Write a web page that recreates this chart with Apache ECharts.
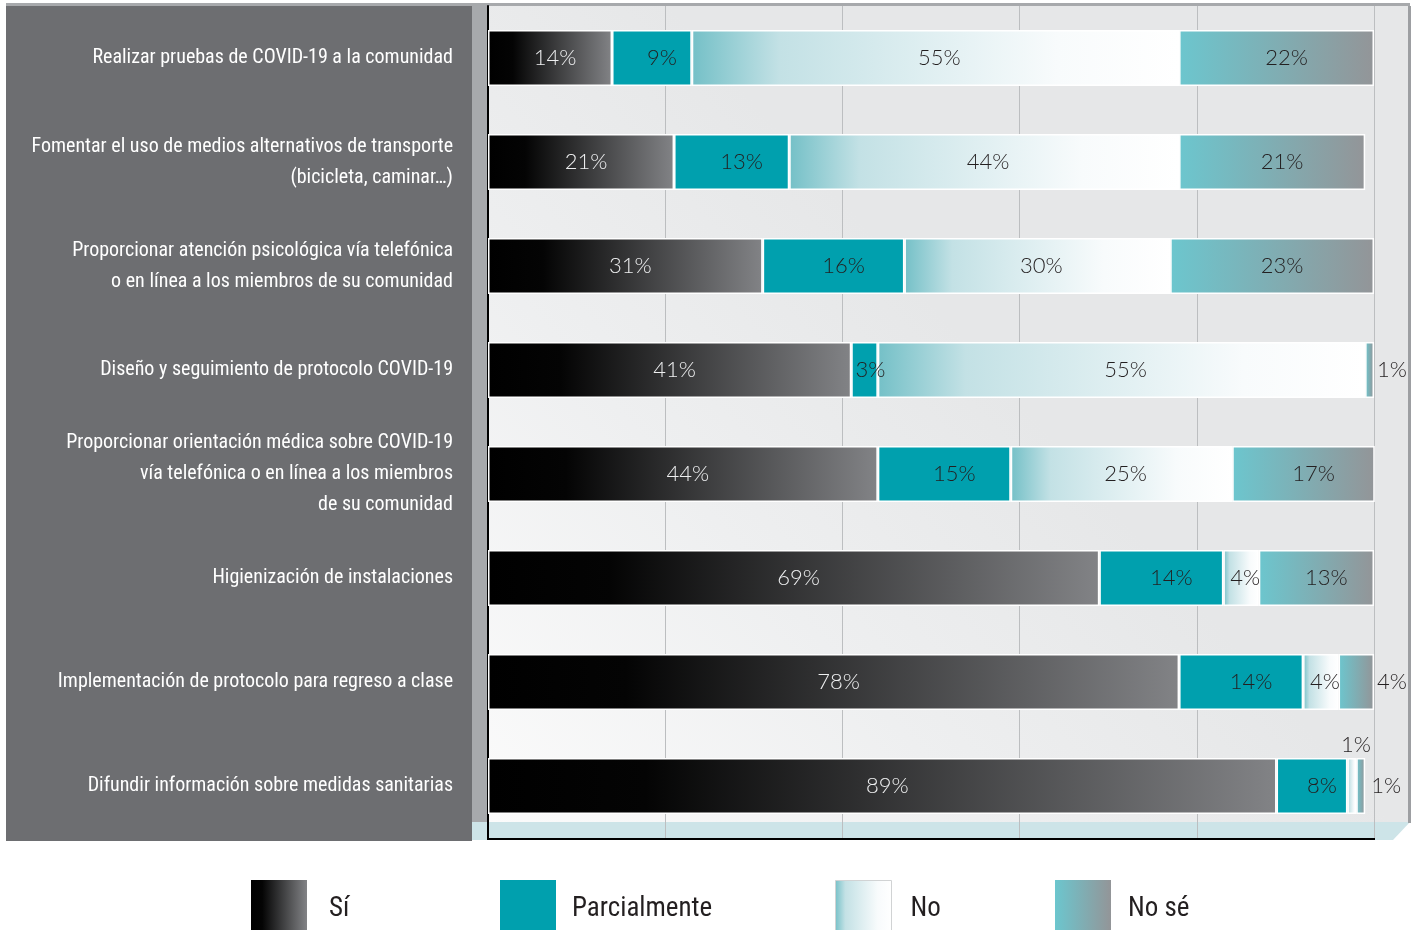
<!DOCTYPE html>
<html>
<head>
<meta charset="utf-8">
<script src="https://cdn.jsdelivr.net/npm/echarts@6/dist/echarts.min.js"></script>
<style>
html,body{margin:0;padding:0;background:#ffffff;}
#chart{width:1426px;height:930px;}
</style>
</head>
<body>
<div id="chart"></div>
<script>
var categories = [
  'Realizar pruebas de COVID-19 a la comunidad',
  'Fomentar el uso de medios alternativos de transporte\n(bicicleta, caminar…)',
  'Proporcionar atención psicológica vía telefónica\no en línea a los miembros de su comunidad',
  'Diseño y seguimiento de protocolo COVID-19',
  'Proporcionar orientación médica sobre COVID-19\nvía telefónica o en línea a los miembros\nde su comunidad',
  'Higienización de instalaciones',
  'Implementación de protocolo para regreso a clase',
  'Difundir información sobre medidas sanitarias'
];
var seriesNames = ['Sí', 'Parcialmente', 'No', 'No sé'];
var siValues = [14, 21, 31, 41, 44, 69, 78, 89];
var parcialValues = [9, 13, 16, 3, 15, 14, 14, 8];
var noValues = [55, 44, 30, 55, 25, 4, 4, 1];
var noSeValues = [22, 21, 23, 1, 17, 13, 4, 1];
var xTicks = [0, 20, 40, 60, 80, 100];

var LG = echarts.graphic.LinearGradient;
var colors = [
  new LG(0, 0, 1, 0, [{offset: 0, color: '#000000'}, {offset: 0.2, color: '#040404'}, {offset: 1, color: '#828386'}]),
  '#00a0ae',
  new LG(0, 0, 1, 0, [{offset: 0, color: '#74c0c7'}, {offset: 0.18, color: '#c3e1e5'}, {offset: 0.75, color: '#f8fbfc'}, {offset: 1, color: '#ffffff'}]),
  new LG(0, 0, 1, 0, [{offset: 0, color: '#6cc6ce'}, {offset: 1, color: '#939598'}])
];
var labelColors = ['#eeeff0', '#231f20', '#231f20', '#231f20'];
var labelShift = [5, 10, 4, 10];
var labelOverrides = [
  {},
  {3: {offset: [6, 0]}},
  {7: {position: 'top', distance: 2, offset: [4, 0]}},
  {3: {position: 'right', distance: 3, offset: [0, 0]}, 6: {position: 'right', distance: 3, offset: [0, 0]}, 7: {position: 'right', distance: 6, offset: [0, 0]}}
];
var allValues = [siValues, parcialValues, noValues, noSeValues];

var valueFont = 'Lato, "Open Sans", sans-serif';
var narrowFont = '"Roboto Condensed", "Liberation Sans Narrow", "DejaVu Sans Condensed", sans-serif';

var series = seriesNames.map(function (name, si) {
  return {
    name: name,
    type: 'bar',
    stack: 'total',
    barWidth: 56,
    itemStyle: {color: colors[si], borderColor: '#ffffff', borderWidth: 1.5},
    label: {
      show: true,
      position: 'inside',
      offset: [labelShift[si], 0],
      formatter: '{c}%',
      color: labelColors[si],
      fontFamily: valueFont,
      fontWeight: 300,
      fontSize: 22
    },
    emphasis: {disabled: true},
    data: allValues[si].map(function (v, i) {
      var o = labelOverrides[si][i];
      return o ? {value: v, label: o} : v;
    })
  };
});

var legendPos = [
  {left: 251, pad: 17},
  {left: 500, pad: 11},
  {left: 835, pad: 14},
  {left: 1055, pad: 12}
];
var legends = seriesNames.map(function (name, i) {
  return {
    data: [name],
    left: legendPos[i].left,
    top: 880,
    padding: 0,
    itemWidth: 56,
    itemHeight: 50,
    icon: 'rect',
    selectedMode: false,
    itemStyle: i === 2 ? {borderColor: '#d1d3d4', borderWidth: 1} : {borderWidth: 0},
    formatter: '{t|{name}}',
    textStyle: {
      fontFamily: narrowFont, fontSize: 27, color: '#231f20', padding: [0, 0, 0, legendPos[i].pad],
      rich: {t: {fontFamily: narrowFont, fontSize: 27, color: '#231f20', padding: [8, 0, 0, 0]}}
    }
  };
});

var chart = echarts.init(document.getElementById('chart'), null, {renderer: 'canvas'});
chart.setOption({
  animation: false,
  backgroundColor: '#ffffff',
  legend: legends,
  grid: {left: 488, right: 52, top: 6, bottom: 92, containLabel: false, outerBoundsMode: 'none'},
  xAxis: {
    type: 'value',
    min: xTicks[0],
    max: xTicks[xTicks.length - 1],
    interval: xTicks[1] - xTicks[0],
    axisLabel: {show: false},
    axisTick: {show: false},
    axisLine: {show: false},
    splitLine: {show: true, lineStyle: {color: '#bcbec0', width: 1}}
  },
  yAxis: {
    type: 'category',
    inverse: true,
    data: categories,
    axisTick: {show: false},
    axisLine: {show: true, lineStyle: {color: '#000000', width: 2}},
    axisLabel: {
      color: '#ffffff',
      fontFamily: narrowFont,
      fontSize: 20,
      lineHeight: 31,
      align: 'right',
      margin: 35
    }
  },
  graphic: {
    elements: [
      {type: 'rect', z: -10, shape: {x: 6, y: 3, width: 1404, height: 3}, style: {fill: '#a7a9ac'}},
      {type: 'rect', z: -10, shape: {x: 6, y: 6, width: 466, height: 835}, style: {fill: '#6d6e71'}},
      {type: 'rect', z: -10, shape: {x: 472, y: 6, width: 16, height: 816}, style: {fill: '#a7a9ac'}},
      {type: 'rect', z: -10, shape: {x: 472, y: 822, width: 16, height: 18}, style: {fill: '#cde4e8'}},
      {type: 'rect', z: -10, shape: {x: 488, y: 6, width: 922, height: 816}, style: {
        fill: new LG(0, 1, 1, 0, [{offset: 0, color: '#fbfbfb'}, {offset: 0.3, color: '#eeeff0'}, {offset: 0.55, color: '#e6e7e8'}, {offset: 1, color: '#e6e7e8'}])
      }},
      {type: 'polygon', z: -9, shape: {points: [[488, 822], [1410, 822], [1393, 840], [488, 840]]}, style: {fill: '#cde4e8'}},
      {type: 'rect', z: -9, shape: {x: 1408, y: 6, width: 3, height: 817}, style: {fill: '#9d9fa2'}},
      {type: 'rect', z: 5, shape: {x: 487, y: 838, width: 888, height: 2}, style: {fill: '#000000'}}
    ]
  },
  series: series
});
</script>
</body>
</html>
